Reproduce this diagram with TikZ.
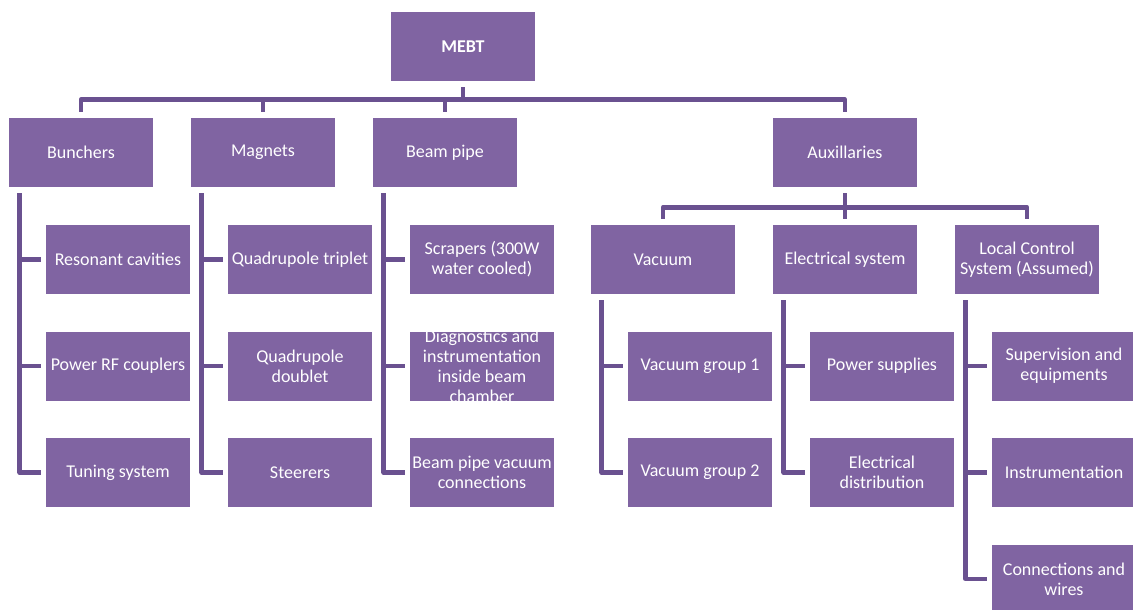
\documentclass[tikz,border=0pt]{standalone}
\usepackage{fontspec}
\setmainfont{Carlito}
\usepackage{xcolor}
\usetikzlibrary{positioning,calc}
\definecolor{boxpurple}{HTML}{8064A2}
\definecolor{linkpurple}{HTML}{6A5190}
\tikzset{
  every picture/.style={line join=round},
  box/.style={rectangle, fill=boxpurple, text=white, minimum width=108pt, minimum height=51.75pt, inner sep=0pt, align=center, font=\fontsize{13.5}{15}\selectfont},
  boxtext/.style={text=white, align=center, inner sep=0pt, font=\fontsize{13.5}{15}\selectfont},
  link/.style={draw=linkpurple, line width=3.4pt},
}

\begin{document}
\begin{tikzpicture}[x=0.75pt,y=-0.75pt]
\useasboundingbox (0,0) rectangle (1133,610);
\clip (0,0) rectangle (1133,610);
\node[box,font=\fontsize{13.5}{15}\selectfont\bfseries](mebt) at (463,46.5) {MEBT};
\node[box](bunch) at (81,152.5) {Bunchers};
\node[box](magn) at (263,152.5) {Magnets};
\node[box](pipe) at (445,152.5) {Beam pipe};
\node[box](aux) at (845,152.5) {Auxillaries};
\node[box](res) at (118,259.5) {Resonant cavities};
\node[box](coup) at (118,366) {Power RF couplers};
\node[box](tune) at (118,472.5) {Tuning system};
\node[box](trip) at (300,259.5) {Quadrupole triplet};
\node[box](doub) at (300,366) {Quadrupole\\doublet};
\node[box](steer) at (300,472.5) {Steerers};
\node[box](scrap) at (482,259.5) {Scrapers (300W\\water cooled)};
\node[box,label={[boxtext]center:Diagnostics and\\instrumentation\\inside beam\\chamber}](diag) at (482,366) {};
\node[box](vacc) at (482,472.5) {Beam pipe vacuum\\connections};
\node[box](vac) at (663,259.5) {Vacuum};
\node[box](elec) at (845,259.5) {Electrical system};
\node[box](lcs) at (1027,259.5) {Local Control\\System (Assumed)};
\node[box](vg1) at (700,366) {Vacuum group 1};
\node[box](vg2) at (700,472.5) {Vacuum group 2};
\node[box](pwr) at (882,366) {Power supplies};
\node[box](dist) at (882,472.5) {Electrical\\distribution};
\node[box](sup) at (1064,366) {Supervision and\\equipments};
\node[box](inst) at (1064,472.5) {Instrumentation};
\node[box](wire) at (1064,579) {Connections and\\wires};
\foreach \n in {bunch,magn,pipe,aux}
  \draw[link]([yshift=-4.5pt]mebt.south)--++(0,12.5)-|([yshift=4.5pt]\n.north);
\foreach \n in {vac,elec,lcs}
  \draw[link]([yshift=-4.5pt]aux.south)--++(0,14)-|([yshift=4.5pt]\n.north);
\foreach \p/\c in {bunch/res,bunch/coup,bunch/tune,magn/trip,magn/doub,magn/steer,
  pipe/scrap,pipe/diag,pipe/vacc,vac/vg1,vac/vg2,elec/pwr,elec/dist,lcs/sup,lcs/inst,lcs/wire}
  \draw[link]([xshift=8.25pt,yshift=-4.5pt]\p.south west)|-([xshift=-3.75pt]\c.west);
\end{tikzpicture}
\end{document}
